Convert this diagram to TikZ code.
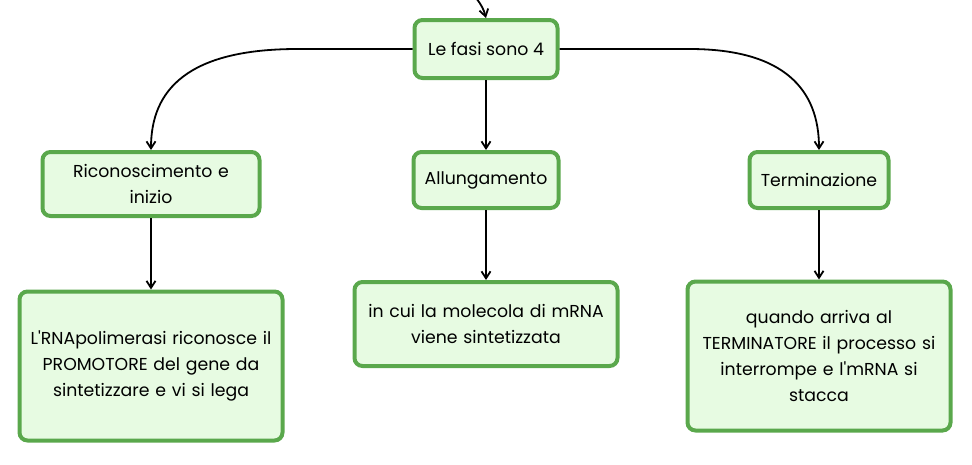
\documentclass[tikz,border=0pt]{standalone}
\usepackage{fontspec}
\setmainfont{Poppins}[Ligatures=TeXOff]
\usetikzlibrary{arrows.meta}
\definecolor{boxgreen}{HTML}{5AA84C}
\definecolor{boxfill}{HTML}{E7FBE2}

\begin{document}
\begin{tikzpicture}[x=1pt,y=-1pt,
        fase/.style={draw=boxgreen, fill=boxfill, line width=4pt, rounded corners=8pt,
            align=center, inner sep=4pt, font=\fontsize{17.3}{26}\selectfont},
        freccia/.style={-{Straight Barb[length=7pt,width=9pt]}, line width=1.8pt}]
            \useasboundingbox (0,0) rectangle (972,464);
            \node[fase, minimum width=143pt, minimum height=58pt] (fasi) at (486,49) {Le fasi sono 4};
            \node[fase, minimum width=217pt, minimum height=64pt, text width=205pt] (ricon) at (151,184) {Riconoscimento e\\inizio};
            \node[fase, minimum width=145pt, minimum height=56pt] (allung) at (486,180) {Allungamento};
            \node[fase, minimum width=139pt, minimum height=56pt] (termin) at (819,180) {Terminazione};
            \node[fase, minimum width=261pt, minimum height=149pt, text width=255pt] (promot) at (151,366) {L'RNApolimerasi riconosce il\\PROMOTORE del gene da\\sintetizzare e vi si lega};
            \node[fase, minimum width=259pt, minimum height=84pt, text width=255pt] (sintesi) at (486,324) {in cui la molecola di mRNA\\viene sintetizzata};
            \node[fase, minimum width=260pt, minimum height=149pt, text width=255pt] (stacco) at (819,356) {quando arriva al\\TERMINATORE il processo si\\interrompe e l'mRNA si\\stacca};
            % collegamenti
            \coordinate (ingresso) at (476,-2);
            \draw[freccia] (ingresso) to[bend left=12] (fasi.north);
            \draw[freccia] (fasi.west) -- ++(-115,0) .. controls +(-110,0) and +(0,-60) .. (ricon.north);
            \draw[freccia] (fasi.east) -- ++(130,0) .. controls +(95,0) and +(0,-60) .. (termin.north);
            \draw[freccia] (fasi.south) -- (allung.north);
            \draw[freccia] (ricon.south) -- (promot.north);
            \draw[freccia] (allung.south) -- (sintesi.north);
            \draw[freccia] (termin.south) -- (stacco.north);
        \end{tikzpicture}
\end{document}
